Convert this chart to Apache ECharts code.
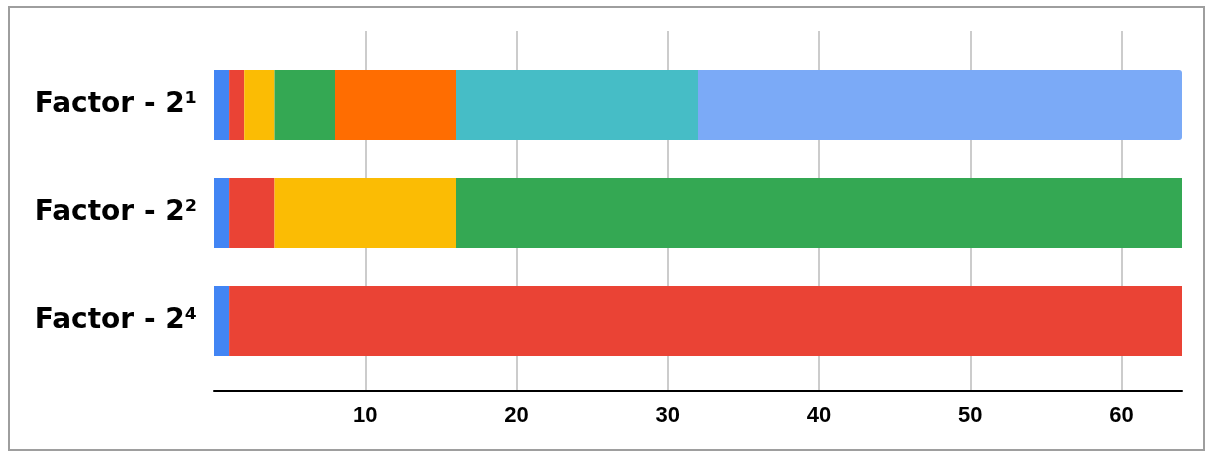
<!DOCTYPE html>
<html>
<head>
<meta charset="utf-8">
<script src="https://cdn.jsdelivr.net/npm/echarts@6/dist/echarts.min.js"></script>
<style>
html,body{margin:0;padding:0;background:#fff;}
#chart{width:1218px;height:462px;}
</style>
</head>
<body>
<div id="chart"></div>
<script>
var categories = ['Factor - 2\u00B9', 'Factor - 2\u00B2', 'Factor - 2\u2074'];
var seg1 = [1, 1, 1];
var seg2 = [1, 3, 63];
var seg3 = [2, 12, null];
var seg4 = [4, 48, null];
var seg5 = [8, null, null];
var seg6 = [16, null, null];
var seg7 = [32, null, null];
var xTicks = [0, 10, 20, 30, 40, 50, 60];
var xMax = 64;

var colors = ['#4285F4', '#EA4335', '#FBBC04', '#34A853', '#FF6D01', '#46BDC6', '#7BAAF7'];
var segs = [seg1, seg2, seg3, seg4, seg5, seg6, seg7];

var chart = echarts.init(document.getElementById('chart'), null, {renderer: 'canvas'});
var series = segs.map(function (d, i) {
  return {
    type: 'bar',
    stack: 'total',
    xAxisIndex: 0,
    yAxisIndex: 0,
    data: d,
    barCategoryGap: '35%',
    itemStyle: {
      color: colors[i],
      borderRadius: i === 6 ? [0, 3, 3, 0] : 0
    },
    silent: true,
    animation: false
  };
});

chart.setOption({
  animation: false,
  graphic: [{
    type: 'rect',
    shape: {x: 9, y: 7, width: 1195, height: 443},
    style: {fill: 'none', stroke: '#9e9e9e', lineWidth: 2},
    z: -10
  }],
  grid: [
    {left: 214, right: 36, top: 51, bottom: 87, containLabel: false},
    {left: 214, right: 36, top: 31, bottom: 71, containLabel: false}
  ],
  xAxis: [
    {
      gridIndex: 0, type: 'value', min: 0, max: xMax, interval: 10,
      show: false, splitLine: {show: false}
    },
    {
      gridIndex: 1, type: 'value', min: 0, max: xMax, interval: xTicks[1] - xTicks[0],
      axisLine: {show: true, lineStyle: {color: '#000', width: 2}},
      axisTick: {show: false},
      axisLabel: {
        show: true, showMinLabel: false, showMaxLabel: false,
        color: '#000', fontFamily: 'Liberation Sans, Arial, sans-serif',
        fontWeight: 'bold', fontSize: 22, margin: 14,
        formatter: function (v) { return xTicks.indexOf(v) >= 0 ? String(v) : ''; }
      },
      splitLine: {show: true, showMinLine: false, showMaxLine: false, lineStyle: {color: '#cccccc', width: 2}}
    }
  ],
  yAxis: [
    {
      gridIndex: 0, type: 'category', data: categories, inverse: true,
      axisLine: {show: false}, axisTick: {show: false},
      axisLabel: {
        color: '#000', fontFamily: 'DejaVu Sans, Verdana, sans-serif',
        fontWeight: 'bold', fontSize: 28, margin: 17,
        padding: [0, 0, 4, 0]
      }
    },
    {
      gridIndex: 1, type: 'value', show: false
    }
  ],
  series: series
});
</script>
</body>
</html>
